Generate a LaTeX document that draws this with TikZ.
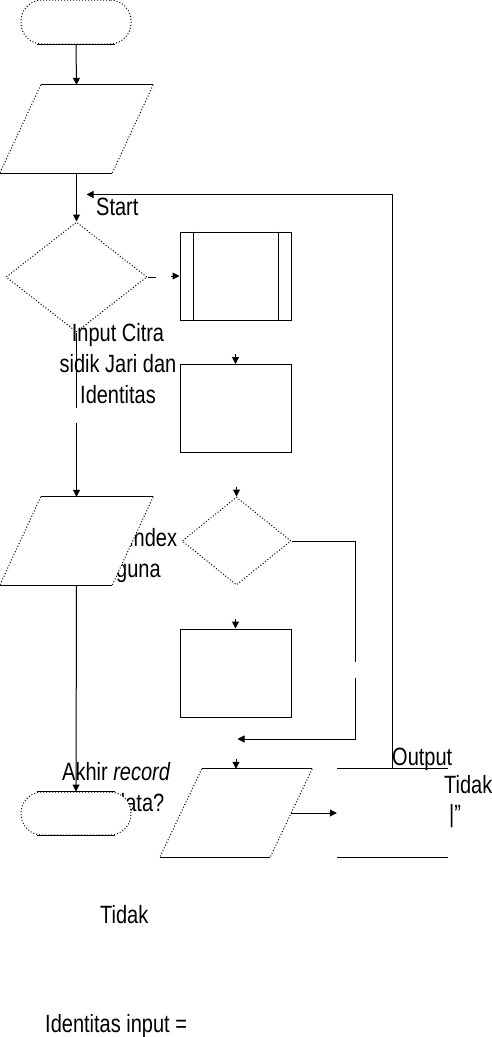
\documentclass[tikz,border=0pt]{standalone}
\usepackage{fontspec}
\setmainfont{Liberation Sans}[FakeStretch=0.8]
\usetikzlibrary{arrows.meta,calc,positioning,shapes.geometric}
\tikzstyle{flow} = [-{Triangle[length=7pt,width=7pt]},line width=1pt]
\tikzstyle{plain} = [line width=1pt]
\tikzstyle{dotline} = [line width=1pt,dash pattern=on 1pt off 2pt]
\tikzstyle{term} = [rectangle,draw,rounded corners=21pt,minimum width=110pt,minimum height=44pt,fill=white,dotline]
\tikzstyle{procbox} = [rectangle,draw,line width=1pt,minimum width=111pt,minimum height=88pt]
\tikzstyle{iobody} = [rectangle,minimum width=112pt,minimum height=88pt,inner sep=0pt]
\tikzstyle{dec} = [diamond,draw,dotline,inner sep=0pt]
\tikzstyle{lbl} = [anchor=base west,inner sep=0pt,font=\fontsize{25}{31}\selectfont]

\begin{document}
\begin{tikzpicture}[x=1pt,y=-1pt]
    \useasboundingbox (0,0) rectangle (491,1037);

    % texts first, some get covered by the shapes
    \node[lbl] (tstart) at (96,215) {Start};
    \node[align=center,inner sep=0pt,font=\fontsize{25}{31}\selectfont] (tinput) at (118,364) {Input Citra\\sidik Jari dan\\Identitas};
    \node[lbl] (tindex) at (129,546) {index};
    \node[lbl] (tguna) at (116,577) {guna};
    \node[lbl] (takhir) at (62,780) {Akhir \textit{record}};
    \node[lbl] (tdata) at (114,811) {data?};
    \node[lbl] (toutput) at (392,765) {Output};
    \node[lbl] (ttidaka) at (444,793) {Tidak};
    \node[lbl] (tquote) at (449,822) {|"};
    \node[lbl] (ttidakb) at (100,923) {Tidak};
    \node[lbl] (tident) at (45,1032) {Identitas input =};

    % shapes
    \node[term] (start) at (76,22) {};
    \node[iobody] (par1) at (76.5,129) {};
    \node[dec,minimum width=141pt,minimum height=110pt] (dia1) at (76.5,277) {};
    \node[procbox] (proc) at (235.5,276) {};
    \node[procbox] (rect2) at (235.5,408.5) {};
    \node[dec,minimum width=109pt,minimum height=88pt] (dia2) at (236.5,541) {};
    \node[procbox] (rect3) at (235.5,673) {};
    \node[iobody] (par3) at (76.5,541) {};
    \node[iobody,minimum width=110pt] (par2) at (236,813) {};
    \node[iobody,minimum width=111pt] (disp) at (392.5,813) {};
    \node[term,minimum height=43pt] (stop) at (76,813.5) {};

    \foreach \p/\s in {par1/20.5,par3/20.5,par2/21}{% slanted in/out boxes
      \fill[white] ($(\p.north west)+(\s,0)$) -- ($(\p.north east)+(\s,0)$)
          -- ($(\p.south east)+(-\s,0)$) -- ($(\p.south west)+(-\s,0)$) -- cycle;
      \draw[plain] ($(\p.north west)+(\s,0)$) -- ($(\p.north east)+(\s,0)$);
      \draw[plain] ($(\p.south west)+(-\s,0)$) -- ($(\p.south east)+(-\s,0)$);
      \draw[dotline] ($(\p.north west)+(\s,0)$) -- ($(\p.south west)+(-\s,0)$);
      \draw[dotline] ($(\p.north east)+(\s,0)$) -- ($(\p.south east)+(-\s,0)$);
    }
    \foreach \t in {start,stop}{
      \draw[plain] ($(\t.north)+(-39,0)$) -- ($(\t.north)+(39,0)$);
      \draw[plain] ($(\t.south)+(-39,0)$) -- ($(\t.south)+(39,0)$);
    }
    \draw[plain] ($(proc.north west)+(14,0)$) -- ($(proc.south west)+(14,0)$);
    \draw[plain] ($(proc.north east)+(-13,0)$) -- ($(proc.south east)+(-13,0)$);
    \draw[plain] (disp.north west) -- (disp.north east);
    \draw[plain] (disp.south west) -- (disp.south east);

    % connectors
    \coordinate (back) at ($(dia1.north)+(10,-27)$);
    \coordinate (gap) at ($(dia2.east)+(64,137)$);
    \coordinate (join) at ($(dia2.east)+(-54,198)$);
    \draw[flow] (start.south) -- (par1.north);
    \draw[flow] (par1.south) -- (dia1.north);
    \draw[plain] (dia1.east) -- ++(8,0);
    \draw[flow] ($(proc.west)+(-9,0)$) -- (proc.west);
    \draw[flow] ($(rect2.north)+(0,-10)$) -- (rect2.north);
    \draw[flow] ($(dia2.north)+(0,-10)$) -- (dia2.north);
    \draw[flow] ($(rect3.north)+(0,-10)$) -- (rect3.north);
    \draw[flow] ($(par2.north)+(0,-10)$) -- (par2.north);
    \draw[plain] (dia1.south) -- ++(0,75);
    \draw[flow] ($(par3.north)+(0,-74)$) -- (par3.north);
    \draw[flow] (par3.south) -- (stop.north);
    \draw[plain] (dia2.east) -| ++(64,121);
    \draw[flow] (gap) |- (join);
    \draw[flow] (par2.east) -- (disp.west);
    \draw[flow] (disp.north) |- (back);
\end{tikzpicture}
\end{document}
